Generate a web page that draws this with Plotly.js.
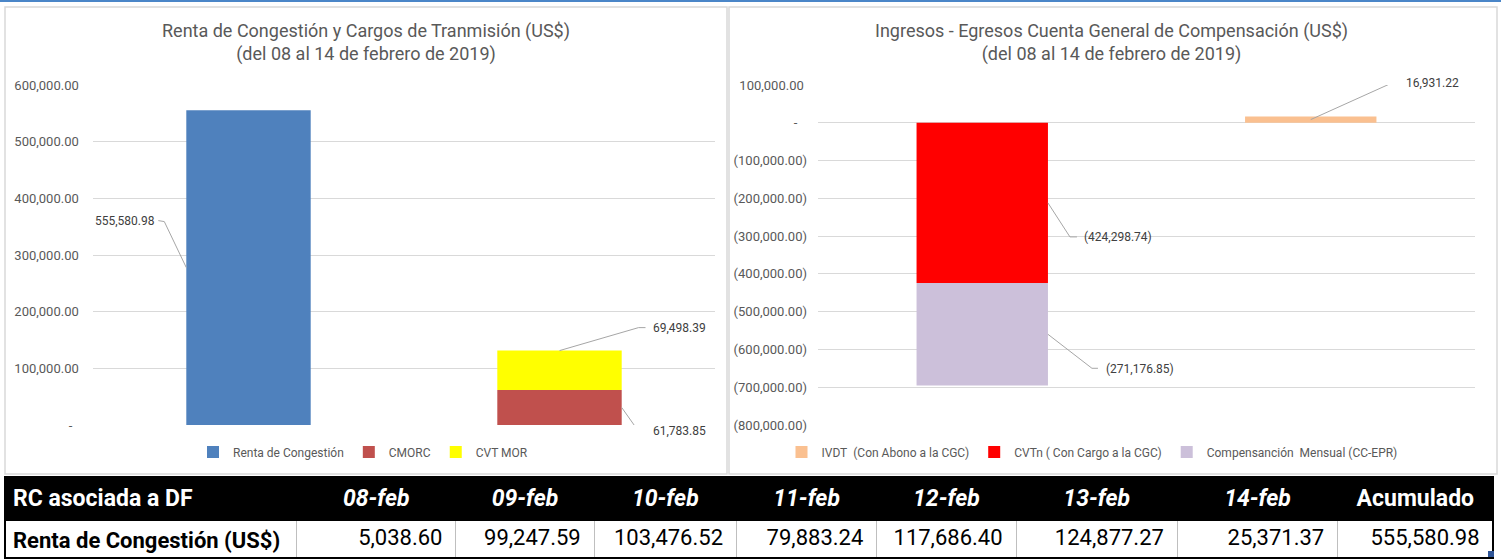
<!DOCTYPE html>
<html><head><meta charset="utf-8">
<script src="https://cdn.plot.ly/plotly-3.0.1.min.js"></script>
<style>html,body{margin:0;padding:0;background:#fff;} #chart{width:1501px;height:560px;}</style>
</head><body><div id="chart"></div>
<script>
// ---------- Left chart data ----------
const leftCategories = ['Renta de Congestión', 'Cargos de Transmisión'];
const rentaValues = [555580.98];
const cmorcValues = [61783.85];
const cvtMorValues = [69498.39];
const leftTickVals = [0, 100000, 200000, 300000, 400000, 500000, 600000];

// ---------- Right chart data ----------
const rightCategories = ['Egresos', 'Ingresos'];
const ivdtValues = [16931.22];
const cvtnValues = [-424298.74];
const compValues = [-271176.85];
const rightTickVals = [-800000, -700000, -600000, -500000, -400000, -300000, -200000, -100000, 0, 100000];

// ---------- Table data ----------
const tableRowLabel = 'Renta de Congestión (US$)';
const tableHeaderLabel = 'RC asociada a DF';
const tableDays = ['08-feb', '09-feb', '10-feb', '11-feb', '12-feb', '13-feb', '14-feb'];
const rentaDaily = [5038.60, 99247.59, 103476.52, 79883.24, 117686.40, 124877.27, 25371.37];
const accumLabel = 'Acumulado';
const rentaAccum = 555580.98;

// ---------- helpers ----------
const W = 1501, H = 560;
const NB = '\u00a0';
function num(v) { return Math.abs(v).toLocaleString('en-US', {minimumFractionDigits: 2, maximumFractionDigits: 2}); }
function acct(v) { return v === 0 ? '-' + NB.repeat(3) : (v < 0 ? '(' + num(v) + ')' : num(v) + NB); }
function px(x) { return x / W; }
function py(y) { return 1 - y / H; }

const chartFont = 'Roboto, Liberation Sans, sans-serif';
const gray = '#595959';
const bargap = 0.6;
const half = (1 - bargap) / 2;

const traces = [
  {type: 'bar', x: [leftCategories[0]], y: rentaValues, name: 'Renta de Congestión', marker: {color: '#4F81BD'}, xaxis: 'x', yaxis: 'y', legend: 'legend'},
  {type: 'bar', x: [leftCategories[1]], y: cmorcValues, name: 'CMORC', marker: {color: '#C0504D'}, xaxis: 'x', yaxis: 'y', legend: 'legend'},
  {type: 'bar', x: [leftCategories[1]], y: cvtMorValues, name: 'CVT MOR', marker: {color: '#FFFF00'}, xaxis: 'x', yaxis: 'y', legend: 'legend'},
  {type: 'bar', x: [rightCategories[1]], y: ivdtValues, name: 'IVDT' + NB + NB + '(Con Abono a la CGC)', marker: {color: '#FAC090'}, xaxis: 'x2', yaxis: 'y2', legend: 'legend2'},
  {type: 'bar', x: [rightCategories[0]], y: cvtnValues, name: 'CVTn ( Con Cargo a la CGC)', marker: {color: '#FF0000'}, xaxis: 'x2', yaxis: 'y2', legend: 'legend2'},
  {type: 'bar', x: [rightCategories[0]], y: compValues, name: 'Compensanción' + NB + NB + 'Mensual (CC-EPR)', marker: {color: '#CCC0DA'}, xaxis: 'x2', yaxis: 'y2', legend: 'legend2'}
];

// table
const headerVals = [['<b>' + tableHeaderLabel + '</b>']]
  .concat(tableDays.map(d => ['<b><i>' + d + '</i></b>']))
  .concat([['<b>' + accumLabel + '</b>']]);
const cellVals = [['<b>' + tableRowLabel + '</b>']]
  .concat(rentaDaily.map(v => [num(v) + NB]))
  .concat([[num(rentaAccum) + NB]]);
traces.push({
  type: 'table',
  domain: {x: [px(5), px(1493)], y: [py(559), py(477)]},
  columnwidth: [291, 159, 138, 142, 140, 139, 161, 160, 155],
  header: {values: headerVals, fill: {color: '#000000'}, line: {color: '#000000', width: 1},
           font: {color: '#FFFFFF', size: 23, family: chartFont},
           align: ['left', 'center', 'center', 'center', 'center', 'center', 'center', 'center', 'center'], height: 40},
  cells: {values: cellVals, fill: {color: '#FFFFFF'}, line: {color: '#BFBFBF', width: 1},
          font: {color: '#000000', size: 22, family: chartFont},
          align: ['left', 'right', 'right', 'right', 'right', 'right', 'right', 'right', 'right'], height: 40}
});

// data labels: [xref, yref, x, y, text, path offsets(screen px, y down), text center offset]
const leftStackTop = cmorcValues[0] + cvtMorValues[0];
const labels = [
  ['x', 'y', 0 - half, rentaValues[0] / 2, num(rentaValues[0]), [[-22, -46], [-28, -47]], [-61, -47]],
  ['x', 'y', 1 + half, cmorcValues[0] / 2, num(cmorcValues[0]), [[17, 24], [24, 24]], [58, 24]],
  ['x', 'y', 1, leftStackTop, num(cvtMorValues[0]), [[79, -23], [86, -23]], [120, -23]],
  ['x2', 'y2', 0 + half, cvtnValues[0] / 2, acct(cvtnValues[0]), [[22, 34], [29, 34]], [70, 34]],
  ['x2', 'y2', 0 + half, cvtnValues[0] + compValues[0] / 2, acct(compValues[0]), [[44, 34], [50, 34]], [92, 35]],
  ['x2', 'y2', 1, ivdtValues[0] / 2, num(ivdtValues[0]), [[82, -37], [87, -37]], [122, -37]]
];

const shapes = [
  {type: 'line', xref: 'paper', yref: 'paper', x0: 0, x1: 1, y0: py(1), y1: py(1), line: {color: '#4A86C8', width: 2}},
  {type: 'rect', xref: 'paper', yref: 'paper', x0: px(5), x1: px(727), y0: py(474), y1: py(7), line: {color: '#D9D9D9', width: 1.5}},
  {type: 'rect', xref: 'paper', yref: 'paper', x0: px(729), x1: px(1497), y0: py(474), y1: py(7), line: {color: '#D9D9D9', width: 1.5}},
  {type: 'rect', xref: 'paper', yref: 'paper', x0: px(5), x1: px(1493), y0: py(558), y1: py(477), line: {color: '#000000', width: 2}},
  {type: 'rect', xref: 'paper', yref: 'paper', x0: px(1488), x1: px(1494), y0: py(557), y1: py(551), fillcolor: '#2F5597', line: {width: 0}}
];
const annotations = [
  {xref: 'paper', yref: 'paper', x: px(366), y: py(43), xanchor: 'center', yanchor: 'middle', showarrow: false,
   text: 'Renta de Congestión y Cargos de Tranmisión (US$)<br>(del 08 al 14 de febrero de 2019)', font: {size: 18, color: gray, family: chartFont}},
  {xref: 'paper', yref: 'paper', x: px(1111), y: py(43), xanchor: 'center', yanchor: 'middle', showarrow: false,
   text: 'Ingresos - Egresos Cuenta General de Compensación (US$)<br>(del 08 al 14 de febrero de 2019)', font: {size: 18, color: gray, family: chartFont}}
];
labels.forEach(l => {
  const pts = l[5];
  shapes.push({type: 'path', xref: l[0], yref: l[1], xsizemode: 'pixel', ysizemode: 'pixel', xanchor: l[2], yanchor: l[3],
    path: 'M0,0 L' + pts[0][0] + ',' + (-pts[0][1]) + ' L' + pts[1][0] + ',' + (-pts[1][1]),
    line: {color: '#A6A6A6', width: 1}});
  annotations.push({xref: l[0], yref: l[1], x: l[2], y: l[3], text: l[4], showarrow: false,
    xanchor: 'center', yanchor: 'middle', xshift: l[6][0], yshift: -l[6][1],
    font: {size: 12, color: '#404040', family: chartFont}});
});

const tickFont = {size: 13, color: gray, family: chartFont};
const legendFont = {size: 12, color: gray, family: chartFont};
const layout = {
  width: W, height: H, margin: {l: 0, r: 0, t: 0, b: 0},
  paper_bgcolor: '#FFFFFF', plot_bgcolor: 'rgba(0,0,0,0)',
  barmode: 'relative', bargap: bargap,
  hovermode: false, dragmode: false,
  font: {family: chartFont, color: gray},
  xaxis: {domain: [px(93), px(715)], anchor: 'y', range: [-0.5, 1.5], categoryorder: 'array', categoryarray: leftCategories,
          showticklabels: false, showgrid: false, zeroline: false, showline: false, ticks: ''},
  yaxis: {domain: [py(425), py(85)], anchor: 'x', range: [0, 600000], tickmode: 'array', tickvals: leftTickVals, ticktext: leftTickVals.map(acct),
          showgrid: true, gridcolor: '#D9D9D9', gridwidth: 1, zeroline: false, showline: false, ticks: '', tickfont: tickFont, ticklabelstandoff: 10},
  xaxis2: {domain: [px(818), px(1475)], anchor: 'y2', range: [-0.5, 1.5], categoryorder: 'array', categoryarray: rightCategories,
           showticklabels: false, showgrid: false, zeroline: false, showline: false, ticks: ''},
  yaxis2: {domain: [py(425), py(85)], anchor: 'x2', range: [-800000, 100000], tickmode: 'array', tickvals: rightTickVals, ticktext: rightTickVals.map(acct),
           showgrid: true, gridcolor: '#D9D9D9', gridwidth: 1, zeroline: false, showline: false, ticks: '', tickfont: tickFont, ticklabelstandoff: 10},
  legend: {orientation: 'h', x: px(363), xanchor: 'center', y: py(452), yanchor: 'middle', traceorder: 'normal',
           font: legendFont, itemwidth: 30, bgcolor: 'rgba(0,0,0,0)'},
  legend2: {orientation: 'h', x: px(1092), xanchor: 'center', y: py(452), yanchor: 'middle', traceorder: 'normal',
           font: legendFont, itemwidth: 30, bgcolor: 'rgba(0,0,0,0)'},
  shapes: shapes,
  annotations: annotations
};
Plotly.newPlot('chart', traces, layout, {displayModeBar: false, staticPlot: true});
</script></body></html>
